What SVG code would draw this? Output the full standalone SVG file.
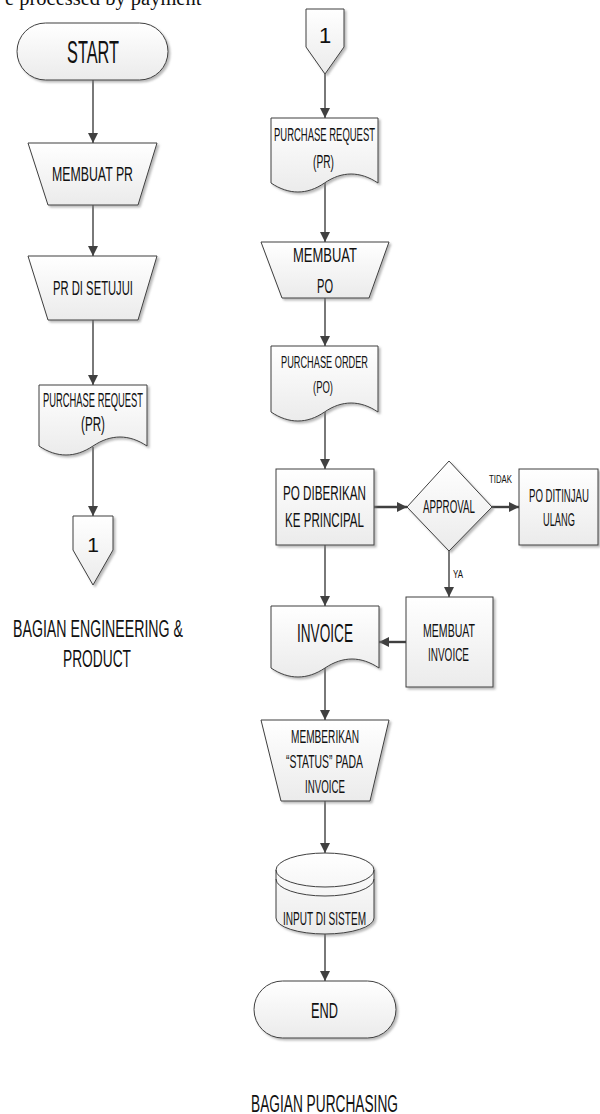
<svg xmlns="http://www.w3.org/2000/svg" width="600" height="1114" viewBox="0 0 600 1114">
  <defs>
    <linearGradient id="fillGrad" x1="0" y1="0" x2="0" y2="1">
      <stop offset="0" stop-color="#ffffff"/>
      <stop offset="1" stop-color="#ebebeb"/>
    </linearGradient>
    <filter id="shadow" x="-10%" y="-10%" width="130%" height="130%">
      <feDropShadow dx="2" dy="2" stdDeviation="1" flood-color="#7f7f7f" flood-opacity="0.55"/>
    </filter>
    <marker id="arrow" markerUnits="userSpaceOnUse" markerWidth="11" markerHeight="10" refX="10" refY="5" orient="auto">
      <path d="M0,0 L10,5 L0,10 Z" fill="#404040"/>
    </marker>
  </defs>
  <style>
    .shape { fill: url(#fillGrad); stroke: #3f3f3f; stroke-width: 1; filter: url(#shadow); }
    .line { fill: none; stroke: #3f3f3f; stroke-width: 1; }
    .conn { fill: none; stroke: #404040; stroke-width: 1.4; marker-end: url(#arrow); }
    .conn.thick { stroke-width: 2.4; }
    .t { font-family: "Liberation Sans", Arial, sans-serif; fill: #111111; text-anchor: middle; }
    .lbl { font-family: "Liberation Sans", Arial, sans-serif; fill: #111111; }
    .cap { font-family: "Liberation Serif", "Times New Roman", serif; fill: #111111; }
  </style>

  <!-- running text of the page above the chart -->
  <text class="cap" x="5" y="5" font-size="20.5">e processed by payment</text>

  <!-- connectors -->
  <g id="connectors">
    <line class="conn" x1="93" y1="80" x2="93" y2="143"/>
    <line class="conn" x1="93" y1="205" x2="93" y2="256"/>
    <line class="conn" x1="93" y1="320" x2="93" y2="385"/>
    <line class="conn" x1="93" y1="447" x2="93" y2="516"/>

    <line class="conn" x1="325" y1="74" x2="325" y2="118"/>
    <line class="conn" x1="325" y1="183" x2="325" y2="242"/>
    <line class="conn" x1="325" y1="298" x2="325" y2="346"/>
    <line class="conn" x1="325" y1="412" x2="325" y2="469"/>
    <line class="conn thick" x1="374" y1="507" x2="407" y2="507"/>
    <line class="conn thick" x1="492" y1="507" x2="519" y2="507"/>
    <line class="conn" x1="449" y1="551" x2="449" y2="597"/>
    <line class="conn thick" x1="406" y1="642" x2="379" y2="642"/>
    <line class="conn" x1="325" y1="545" x2="325" y2="606"/>
    <line class="conn" x1="325" y1="668" x2="325" y2="720"/>
    <line class="conn" x1="325" y1="801" x2="325" y2="853"/>
    <line class="conn" x1="325" y1="934" x2="325" y2="981"/>
    <text class="lbl" x="489" y="483" font-size="11" textLength="23" lengthAdjust="spacingAndGlyphs">TIDAK</text>
    <text class="lbl" x="453" y="578" font-size="10" textLength="10" lengthAdjust="spacingAndGlyphs">YA</text>
  </g>

  <!-- left lane: engineering & product -->
  <g id="start">
    <rect class="shape" x="17" y="23" width="151" height="57" rx="28.5" ry="28.5"/>
    <text class="t" x="93" y="63" font-size="32" textLength="52" lengthAdjust="spacingAndGlyphs">START</text>
  </g>
  <g id="membuat-pr">
    <polygon class="shape" points="28,143 157,143 138,205 48,205"/>
    <text class="t" x="92.5" y="181" font-size="19.5" textLength="81" lengthAdjust="spacingAndGlyphs">MEMBUAT PR</text>
  </g>
  <g id="pr-disetujui">
    <polygon class="shape" points="28,256 157,256 138,320 48,320"/>
    <text class="t" x="93" y="295" font-size="21" textLength="80" lengthAdjust="spacingAndGlyphs">PR DI SETUJUI</text>
  </g>
  <g id="pr-doc-left">
    <path class="shape" d="M39,385 H147 V446 C129,434 111,434 93,446 C75,458 57,458 39,446 Z"/>
    <text class="t" x="93" y="407" font-size="19.5" textLength="100" lengthAdjust="spacingAndGlyphs">PURCHASE REQUEST</text>
    <text class="t" x="93" y="431" font-size="19.5" textLength="24" lengthAdjust="spacingAndGlyphs">(PR)</text>
  </g>
  <g id="offpage-left">
    <polygon class="shape" points="73,516 113,516 113,550 93,585 73,550"/>
    <text class="t" x="93" y="552" font-size="21">1</text>
  </g>
  <g id="lane-engineering">
    <text class="t" x="98" y="637" font-size="23.5" textLength="170" lengthAdjust="spacingAndGlyphs">BAGIAN ENGINEERING &amp;</text>
    <text class="t" x="97" y="667" font-size="23.5" textLength="68" lengthAdjust="spacingAndGlyphs">PRODUCT</text>
  </g>

  <!-- right lane: purchasing -->
  <g id="offpage-right">
    <polygon class="shape" points="306,9 344,9 344,47 325,74 306,47"/>
    <text class="t" x="325" y="43" font-size="22">1</text>
  </g>
  <g id="pr-doc-right">
    <path class="shape" d="M271,118 H378 V183 C360,171 342,171 324.5,183 C307,195 289,195 271,183 Z"/>
    <text class="t" x="324.5" y="141" font-size="18" textLength="101" lengthAdjust="spacingAndGlyphs">PURCHASE REQUEST</text>
    <text class="t" x="323.5" y="168" font-size="18" textLength="21" lengthAdjust="spacingAndGlyphs">(PR)</text>
  </g>
  <g id="membuat-po">
    <polygon class="shape" points="261,242 389,242 369,298 282,298"/>
    <text class="t" x="325" y="262" font-size="21" textLength="64" lengthAdjust="spacingAndGlyphs">MEMBUAT</text>
    <text class="t" x="325" y="293" font-size="21" textLength="16" lengthAdjust="spacingAndGlyphs">PO</text>
  </g>
  <g id="po-doc">
    <path class="shape" d="M271,346 H378 V412 C360,400 342,400 324.5,412 C307,424 289,424 271,412 Z"/>
    <text class="t" x="324.5" y="368" font-size="16.3" textLength="87" lengthAdjust="spacingAndGlyphs">PURCHASE ORDER</text>
    <text class="t" x="323" y="393" font-size="16.3" textLength="20" lengthAdjust="spacingAndGlyphs">(PO)</text>
  </g>
  <g id="po-diberikan">
    <rect class="shape" x="276" y="469" width="98" height="76"/>
    <text class="t" x="324.5" y="500" font-size="21" textLength="83" lengthAdjust="spacingAndGlyphs">PO DIBERIKAN</text>
    <text class="t" x="324.5" y="527" font-size="21" textLength="79" lengthAdjust="spacingAndGlyphs">KE PRINCIPAL</text>
  </g>
  <g id="approval">
    <polygon class="shape" points="449,461 492,507 449,551 407,507"/>
    <text class="t" x="449" y="513" font-size="18" textLength="52" lengthAdjust="spacingAndGlyphs">APPROVAL</text>
  </g>
  <g id="po-ditinjau">
    <rect class="shape" x="519" y="469" width="79" height="76"/>
    <text class="t" x="559" y="502" font-size="18.5" textLength="60" lengthAdjust="spacingAndGlyphs">PO DITINJAU</text>
    <text class="t" x="559" y="526" font-size="18" textLength="32" lengthAdjust="spacingAndGlyphs">ULANG</text>
  </g>
  <g id="membuat-invoice">
    <rect class="shape" x="406" y="597" width="87" height="90"/>
    <text class="t" x="449" y="637" font-size="19" textLength="52" lengthAdjust="spacingAndGlyphs">MEMBUAT</text>
    <text class="t" x="448.5" y="661" font-size="19" textLength="41" lengthAdjust="spacingAndGlyphs">INVOICE</text>
  </g>
  <g id="invoice-doc">
    <path class="shape" d="M271,606 H379 V668 C361,656 343,656 325,668 C307,680 289,680 271,668 Z"/>
    <text class="t" x="325" y="642" font-size="26" textLength="56" lengthAdjust="spacingAndGlyphs">INVOICE</text>
  </g>
  <g id="memberikan-status">
    <polygon class="shape" points="261,720 389,720 370,801 281,801"/>
    <text class="t" x="325" y="743" font-size="18" textLength="68" lengthAdjust="spacingAndGlyphs">MEMBERIKAN</text>
    <text class="t" x="324.5" y="768" font-size="18" textLength="77" lengthAdjust="spacingAndGlyphs">“STATUS” PADA</text>
    <text class="t" x="325" y="793" font-size="19" textLength="40" lengthAdjust="spacingAndGlyphs">INVOICE</text>
  </g>
  <g id="input-sistem">
    <path class="shape" d="M276,870 V918 A49,16 0 0 0 374,918 V870 A49,17 0 0 0 276,870 Z"/>
    <path class="line" d="M276,870 A49,17 0 0 0 374,870"/>
    <path class="line" d="M276,879 A49,17 0 0 0 374,879"/>
    <text class="t" x="324.5" y="925" font-size="18" textLength="83" lengthAdjust="spacingAndGlyphs">INPUT DI SISTEM</text>
  </g>
  <g id="end">
    <rect class="shape" x="254" y="981" width="142" height="57" rx="28.5" ry="28.5"/>
    <text class="t" x="324.5" y="1018" font-size="22" textLength="27" lengthAdjust="spacingAndGlyphs">END</text>
  </g>
  <g id="lane-purchasing">
    <text class="t" x="324.5" y="1112" font-size="23.5" textLength="147" lengthAdjust="spacingAndGlyphs">BAGIAN PURCHASING</text>
  </g>
</svg>
